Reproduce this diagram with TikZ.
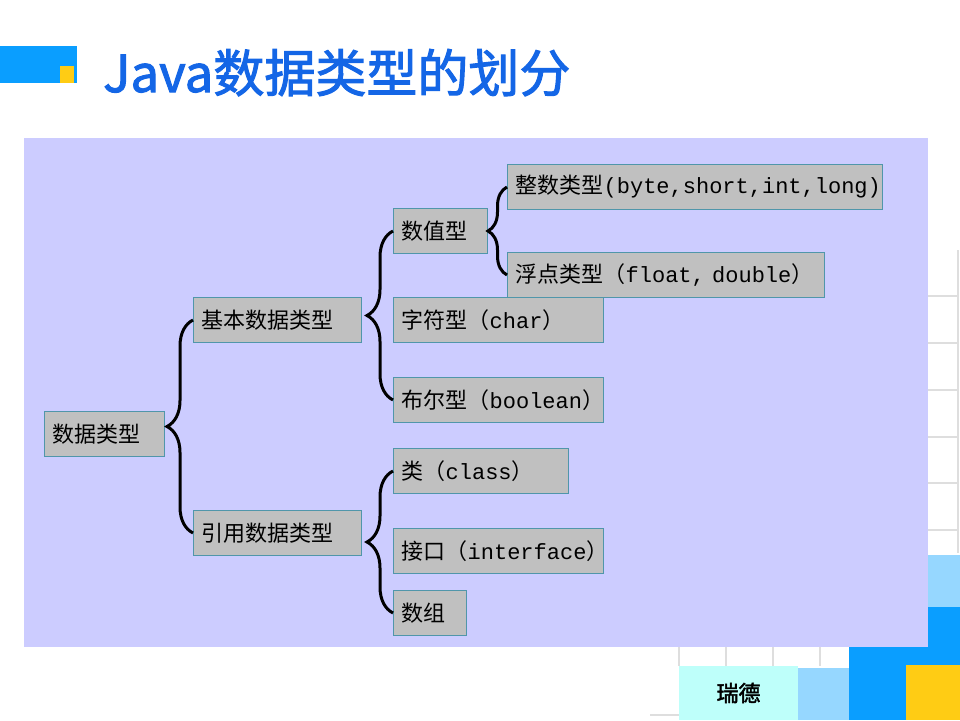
\documentclass[tikz,border=0pt]{standalone}
\usepackage{fontspec}
\setmainfont{Noto Sans CJK SC}
\setmonofont{Liberation Mono}
\newfontfamily\titlefont[FakeBold=2]{Noto Sans CJK SC}
\usetikzlibrary{decorations.pathreplacing}

\definecolor{panelbg}{HTML}{CCCCFF}
\definecolor{boxfill}{HTML}{C0C0C0}
\definecolor{boxline}{HTML}{5096AA}
\definecolor{titleblue}{HTML}{1466E6}
\definecolor{barblue}{HTML}{0A9EFF}
\definecolor{lightblue}{HTML}{96D7FF}
\definecolor{logocyan}{HTML}{BEFFFA}
\definecolor{sunyellow}{HTML}{FFCC14}
\definecolor{gridgrey}{HTML}{DEDEDE}

\begin{document}
\begin{tikzpicture}[
    x=1pt, y=-1pt,
    typebox/.style={draw=boxline, fill=boxfill, line width=1.3pt, inner xsep=8pt, inner ysep=0pt,
        minimum height=45pt, text width=#1, align=left, anchor=west,
        font=\fontsize{22}{25}\selectfont},
    curly/.style={decorate, decoration={brace, amplitude=#1}, line width=3pt, black},
    curly/.default=26pt,
    gridline/.style={gridgrey, line width=1.2pt},
    logo/.style={fill=logocyan, minimum width=119pt, minimum height=54pt, inner sep=0pt,
        font=\titlefont\fontsize{22}{24}\selectfont}
]
    \useasboundingbox (0,0) rectangle (960,720);

    % Slide decoration and title
    \fill[barblue] (0,46) rectangle (77,83);
    \fill[sunyellow] (60,66) rectangle (74,83);
    \node[anchor=base west, inner sep=0pt, text=titleblue,
        font=\titlefont\fontsize{51}{58}\selectfont] (title) at (103,92) {Java数据类型的划分};

    % Grid on the right and at the bottom
    \foreach \y in {296,343,390,437,483,530}
        \draw[gridline] (928,\y) -- (958,\y);
    \draw[gridline] (958,250) -- (958,553);
    \foreach \x in {679,726,773,820}
        \draw[gridline] (\x,647) -- (\x,666);
    \draw[gridline] (650,715) -- (679,715);

    % Coloured blocks in the corner
    \fill[lightblue] (928,555) rectangle (960,607);
    \fill[barblue] (928,607) rectangle (960,720);
    \fill[barblue] (849,647) rectangle (960,720);
    \fill[sunyellow] (906,665) rectangle (960,720);
    \fill[lightblue] (798,668) rectangle (849,720);
    \node[logo] (ruide) at (738.5,693) {瑞德};

    % Panel
    \fill[panelbg] (24,138) rectangle (928,647);

    % Root and first level
    \node[typebox=104pt] (root) at (44,434) {数据类型};
    \node[typebox=152pt] (basic) at (193,320) {基本数据类型};
    \node[typebox=152pt] (ref) at (193,533) {引用数据类型};

    % Primitive types
    \node[typebox=78pt] (numeric) at (393,231) {数值型};
    \node[typebox=194pt] (char) at (393,320) {字符型（\texttt{char}）};
    \node[typebox=194pt] (bool) at (393,400) {布尔型（\texttt{boolean}）};

    % Numeric types
    \node[typebox=359pt] (int) at (507,187) {整数类型\texttt{(byte,short,int,long)}};
    \node[typebox=301pt] (float) at (507,275) {浮点类型（\texttt{float, double}）};

    % Reference types
    \node[typebox=159pt] (class) at (393,471) {类（\texttt{class}）};
    \node[typebox=194pt] (iface) at (393,551) {接口（\texttt{interface}）};
    \node[typebox=57pt] (array) at (393,613) {数组};

    % Braces from children back to their parent
    \draw[curly] (ref.west) -- (basic.west);
    \draw[curly] (bool.west) -- (numeric.west);
    \draw[curly=19pt] (float.west) -- (int.west);
    \draw[curly] (array.west) -- (class.west);

\end{tikzpicture}
\end{document}
